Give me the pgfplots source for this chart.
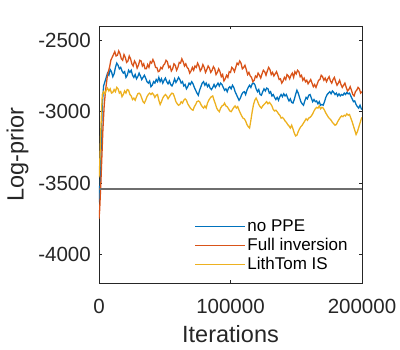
\documentclass[border=0pt]{standalone}
\usepackage{pgfplots}
\pgfplotsset{compat=1.18}
\usepackage{fontspec}
\setmainfont{Liberation Sans}
\usetikzlibrary{calc}
\definecolor{mBlue}{HTML}{0072BD}
\definecolor{mOrange}{HTML}{D95319}
\definecolor{mYellow}{HTML}{EDB120}
\definecolor{axgray}{RGB}{38,38,38}
\definecolor{refgray}{RGB}{110,110,110}

\begin{document}
\begin{tikzpicture}
\begin{axis}[
  name=ax,
  scale only axis, width=263pt, height=257pt,
  xmin=0, xmax=200000, ymin=-4200, ymax=-2400,
  xtick={0,100000,200000}, ytick={-4000,-3500,-3000,-2500},
  xticklabels={0,100000,200000}, yticklabels={-4000,-3500,-3000,-2500},
  scaled ticks=false,
  tick align=inside, major tick length=3pt,
  axis line style={axgray, line width=0.6pt},
  tick style={axgray, line width=0.5pt},
  ticklabel style={font=\fontsize{20.5}{24}\selectfont, text=axgray},
  yticklabel style={anchor=east, inner sep=0pt, xshift=-8pt},
  xticklabel style={anchor=north, inner sep=0pt, yshift=-16pt},
  xlabel={Iterations}, ylabel={Log-prior},
  every axis x label/.style={at={(axis description cs:0.5,-0.20)}, anchor=center,
    font=\fontsize{23.5}{28}\selectfont, text=axgray},
  every axis y label/.style={at={(axis description cs:-0.31,0.5)}, rotate=90, anchor=center,
    font=\fontsize{23.5}{28}\selectfont, text=axgray},
  legend style={draw=none, fill=none, at={(0.363,0.255)}, anchor=north west,
    font=\fontsize{17}{20}\selectfont, row sep=1.5pt, inner sep=0pt,
    cells={anchor=west}, /tikz/every even column/.style={column sep=3pt}},
  legend image code/.code={\draw[#1, line width=0.8pt] (0pt,0pt) -- (50pt,0pt);},
  every axis plot/.append style={line width=1.3pt},
]
\addplot[mBlue] coordinates {
(0,-3520)(300,-3600)(800,-3580)(1500,-3300)(2500,-2950)(3500,-2820)(4500,-2790)(5500,-2760)
(6500,-2730)(7500,-2745)(8500,-2705)(9500,-2720)(10500,-2755)(11500,-2735)(12500,-2690)(13500,-2660)
(14500,-2675)(15500,-2700)(16500,-2690)(17500,-2715)(18500,-2730)(19500,-2720)(20500,-2760)(21500,-2745)
(22500,-2710)(23500,-2725)(24500,-2710)(25500,-2745)(26500,-2760)(27500,-2740)(28500,-2770)(29500,-2755)
(30500,-2730)(31500,-2750)(32500,-2775)(33500,-2760)(34500,-2745)(35500,-2765)(36500,-2790)(37500,-2800)
(38500,-2785)(39500,-2825)(40500,-2815)(41500,-2790)(42500,-2800)(43500,-2775)(44500,-2790)(45500,-2760)
(46500,-2790)(47500,-2770)(48500,-2800)(49500,-2780)(50500,-2765)(51500,-2790)(52500,-2805)(53500,-2785)
(54500,-2810)(55500,-2820)(56500,-2800)(57500,-2770)(58500,-2795)(59500,-2780)(60500,-2760)(61500,-2775)
(62500,-2800)(63500,-2790)(64500,-2820)(65500,-2810)(66500,-2840)(67500,-2825)(68500,-2800)(69500,-2810)
(70500,-2790)(71500,-2805)(72500,-2830)(73500,-2850)(74500,-2870)(75500,-2885)(76500,-2850)(77500,-2825)
(78500,-2800)(79500,-2790)(80500,-2815)(81500,-2800)(82500,-2825)(83500,-2810)(84500,-2835)(85500,-2845)
(86500,-2830)(87500,-2810)(88500,-2830)(89500,-2815)(90500,-2800)(91500,-2820)(92500,-2800)(93500,-2810)
(94500,-2830)(95500,-2850)(96500,-2840)(97500,-2860)(98500,-2835)(99500,-2825)(100500,-2840)(101500,-2815)
(102500,-2830)(103500,-2860)(104500,-2880)(105500,-2900)(106500,-2920)(107500,-2905)(108500,-2880)(109500,-2865)
(110500,-2860)(111500,-2880)(112500,-2850)(113500,-2830)(114500,-2815)(115500,-2830)(116500,-2805)(117500,-2800)
(118500,-2810)(119500,-2840)(120500,-2860)(121500,-2845)(122500,-2880)(123500,-2885)(124500,-2860)(125500,-2840)
(126500,-2855)(127500,-2835)(128500,-2840)(129500,-2870)(130500,-2860)(131500,-2890)(132500,-2880)(133500,-2900)
(134500,-2915)(135500,-2900)(136500,-2920)(137500,-2895)(138500,-2880)(139500,-2895)(140500,-2875)(141500,-2890)
(142500,-2880)(143500,-2905)(144500,-2925)(145500,-2910)(146500,-2935)(147500,-2940)(148500,-2915)(149500,-2880)
(150500,-2850)(151500,-2870)(152500,-2900)(153500,-2930)(154500,-2945)(155500,-2955)(156500,-2925)(157500,-2900)
(158500,-2910)(159500,-2885)(160500,-2880)(161500,-2905)(162500,-2930)(163500,-2915)(164500,-2930)(165500,-2925)
(166500,-2945)(167500,-2930)(168500,-2955)(169500,-2950)(170500,-2955)(171500,-2930)(172500,-2900)(173500,-2880)
(174500,-2870)(175500,-2860)(176500,-2875)(177500,-2855)(178500,-2865)(179500,-2880)(180500,-2870)(181500,-2890)
(182500,-2875)(183500,-2890)(184500,-2880)(185500,-2885)(186500,-2870)(187500,-2880)(188500,-2865)(189500,-2875)
(190500,-2870)(191500,-2890)(192500,-2910)(193500,-2930)(194500,-2925)(195500,-2950)(196500,-2965)(197500,-2975)
(198500,-2955)(199500,-2980)(200000,-2985)
};
\addlegendentry{no PPE}
\addplot[mOrange] coordinates {
(0,-3750)(500,-3690)(1500,-3480)(3000,-3120)(4000,-2950)(5000,-2850)(6500,-2740)(8000,-2690)
(9000,-2640)(10000,-2620)(11000,-2600)(12000,-2580)(13000,-2610)(14000,-2605)(15000,-2575)(16000,-2595)
(17000,-2630)(18000,-2640)(19000,-2600)(20000,-2620)(21000,-2655)(22000,-2645)(23000,-2610)(24000,-2630)
(25000,-2665)(26000,-2680)(27000,-2645)(28000,-2660)(29000,-2695)(30000,-2675)(31000,-2640)(32000,-2645)
(33000,-2680)(34000,-2665)(35000,-2700)(36000,-2700)(37000,-2670)(38000,-2690)(39000,-2650)(40000,-2660)
(41000,-2635)(42000,-2655)(43000,-2690)(44000,-2690)(45000,-2720)(46000,-2715)(47000,-2690)(48000,-2700)
(49000,-2675)(50000,-2665)(51000,-2640)(52000,-2650)(53000,-2690)(54000,-2680)(55000,-2715)(56000,-2700)
(57000,-2665)(58000,-2675)(59000,-2710)(60000,-2690)(61000,-2655)(62000,-2660)(63000,-2630)(64000,-2650)
(65000,-2680)(66000,-2665)(67000,-2690)(68000,-2700)(69000,-2730)(70000,-2715)(71000,-2690)(72000,-2710)
(73000,-2680)(74000,-2690)(75000,-2660)(76000,-2680)(77000,-2715)(78000,-2700)(79000,-2670)(80000,-2690)
(81000,-2725)(82000,-2705)(83000,-2680)(84000,-2695)(85000,-2725)(86000,-2710)(87000,-2685)(88000,-2700)
(89000,-2740)(90000,-2725)(91000,-2700)(92000,-2720)(93000,-2755)(94000,-2740)(95000,-2785)(96000,-2770)
(97000,-2745)(98000,-2760)(99000,-2720)(100000,-2725)(101000,-2690)(102000,-2700)(103000,-2720)(104000,-2690)
(105000,-2660)(106000,-2670)(107000,-2645)(108000,-2660)(109000,-2700)(110000,-2690)(111000,-2675)(112000,-2705)
(113000,-2740)(114000,-2725)(115000,-2750)(116000,-2760)(117000,-2790)(118000,-2780)(119000,-2750)(120000,-2760)
(121000,-2730)(122000,-2745)(123000,-2765)(124000,-2735)(125000,-2710)(126000,-2720)(127000,-2745)(128000,-2715)
(129000,-2690)(130000,-2705)(131000,-2740)(132000,-2725)(133000,-2750)(134000,-2735)(135000,-2720)(136000,-2745)
(137000,-2775)(138000,-2770)(139000,-2800)(140000,-2785)(141000,-2760)(142000,-2775)(143000,-2740)(144000,-2750)
(145000,-2770)(146000,-2745)(147000,-2730)(148000,-2760)(149000,-2720)(150000,-2735)(151000,-2710)(152000,-2720)
(153000,-2755)(154000,-2745)(155000,-2780)(156000,-2765)(157000,-2790)(158000,-2780)(159000,-2805)(160000,-2790)
(161000,-2775)(162000,-2800)(163000,-2825)(164000,-2810)(165000,-2830)(166000,-2805)(167000,-2780)(168000,-2775)
(169000,-2745)(170000,-2755)(171000,-2780)(172000,-2765)(173000,-2790)(174000,-2770)(175000,-2755)(176000,-2785)
(177000,-2800)(178000,-2775)(179000,-2760)(180000,-2790)(181000,-2815)(182000,-2800)(183000,-2780)(184000,-2810)
(185000,-2830)(186000,-2815)(187000,-2800)(188000,-2830)(189000,-2855)(190000,-2845)(191000,-2825)(192000,-2850)
(193000,-2880)(194000,-2890)(195000,-2860)(196000,-2850)(197000,-2830)(198000,-2840)(199000,-2870)(200000,-2860)
};
\addlegendentry{Full inversion}
\addplot[mYellow] coordinates {
(0,-3460)(500,-3380)(1500,-3100)(2500,-2880)(3500,-2860)(4500,-2875)(5500,-2850)(6500,-2835)
(7500,-2855)(8500,-2840)(9500,-2870)(10500,-2865)(11500,-2845)(12500,-2860)(13500,-2830)(14500,-2840)
(15500,-2870)(16500,-2860)(17500,-2895)(18500,-2880)(19500,-2855)(20500,-2870)(21500,-2845)(22500,-2850)
(23500,-2880)(24500,-2890)(25500,-2915)(26500,-2905)(27500,-2920)(28500,-2895)(29500,-2875)(30500,-2870)
(31500,-2880)(32500,-2905)(33500,-2930)(34500,-2940)(35500,-2920)(36500,-2895)(37500,-2880)(38500,-2870)
(39500,-2880)(40500,-2870)(41500,-2880)(42500,-2900)(43500,-2885)(44500,-2880)(45500,-2920)(46500,-2950)
(47500,-2930)(48500,-2905)(49500,-2890)(50500,-2880)(51500,-2890)(52500,-2910)(53500,-2895)(54500,-2880)
(55500,-2870)(56500,-2875)(57500,-2900)(58500,-2930)(59500,-2945)(60500,-2955)(61500,-2950)(62500,-2930)
(63500,-2940)(64500,-2920)(65500,-2910)(66500,-2920)(67500,-2945)(68500,-2960)(69500,-2975)(70500,-2985)
(71500,-2990)(72500,-2965)(73500,-2950)(74500,-2930)(75500,-2925)(76500,-2930)(77500,-2950)(78500,-2965)
(79500,-2975)(80500,-2960)(81500,-2975)(82500,-2940)(83500,-2920)(84500,-2905)(85500,-2895)(86500,-2890)
(87500,-2920)(88500,-2945)(89500,-2975)(90500,-2990)(91500,-3000)(92500,-2975)(93500,-2960)(94500,-2955)
(95500,-2940)(96500,-2960)(97500,-2965)(98500,-2980)(99500,-2995)(100500,-3000)(101500,-2985)(102500,-2970)
(103500,-2960)(104500,-2975)(105500,-2965)(106500,-2990)(107500,-3010)(108500,-3030)(109500,-3045)(110500,-3050)
(111500,-3065)(112500,-3090)(113500,-3105)(114500,-3115)(115500,-3060)(116500,-3000)(117500,-2950)(118500,-2920)
(119500,-2905)(120500,-2925)(121500,-2950)(122500,-2965)(123500,-2975)(124500,-2960)(125500,-2950)(126500,-2940)
(127500,-2930)(128500,-2945)(129500,-2935)(130500,-2945)(131500,-2960)(132500,-2985)(133500,-2995)(134500,-2990)
(135500,-3000)(136500,-3015)(137500,-3025)(138500,-3045)(139500,-3040)(140500,-3050)(141500,-3065)(142500,-3075)
(143500,-3090)(144500,-3100)(145500,-3115)(146500,-3095)(147500,-3120)(148500,-3150)(149500,-3170)(150500,-3165)
(151500,-3140)(152500,-3120)(153500,-3105)(154500,-3095)(155500,-3080)(156500,-3065)(157500,-3050)(158500,-3060)
(159500,-3045)(160500,-3040)(161500,-3030)(162500,-3015)(163500,-2995)(164500,-2980)(165500,-2970)(166500,-2975)
(167500,-2960)(168500,-2980)(169500,-2970)(170500,-2975)(171500,-2990)(172500,-3010)(173500,-3025)(174500,-3040)
(175500,-3050)(176500,-3060)(177500,-3075)(178500,-3085)(179500,-3095)(180500,-3090)(181500,-3070)(182500,-3055)
(183500,-3040)(184500,-3030)(185500,-3035)(186500,-3025)(187500,-3030)(188500,-3015)(189500,-3025)(190500,-3020)
(191500,-3045)(192500,-3070)(193500,-3100)(194500,-3130)(195500,-3160)(196500,-3140)(197500,-3110)(198500,-3080)
(199500,-3050)(200000,-3040)
};
\addlegendentry{LithTom IS}
\addplot[refgray, line width=2pt, forget plot] coordinates {(0,-3540)(200000,-3540)};
\end{axis}
\path ($(ax.south west)+(-99pt,-67pt)$) rectangle ++(400pt,350pt);
\end{tikzpicture}
\end{document}
